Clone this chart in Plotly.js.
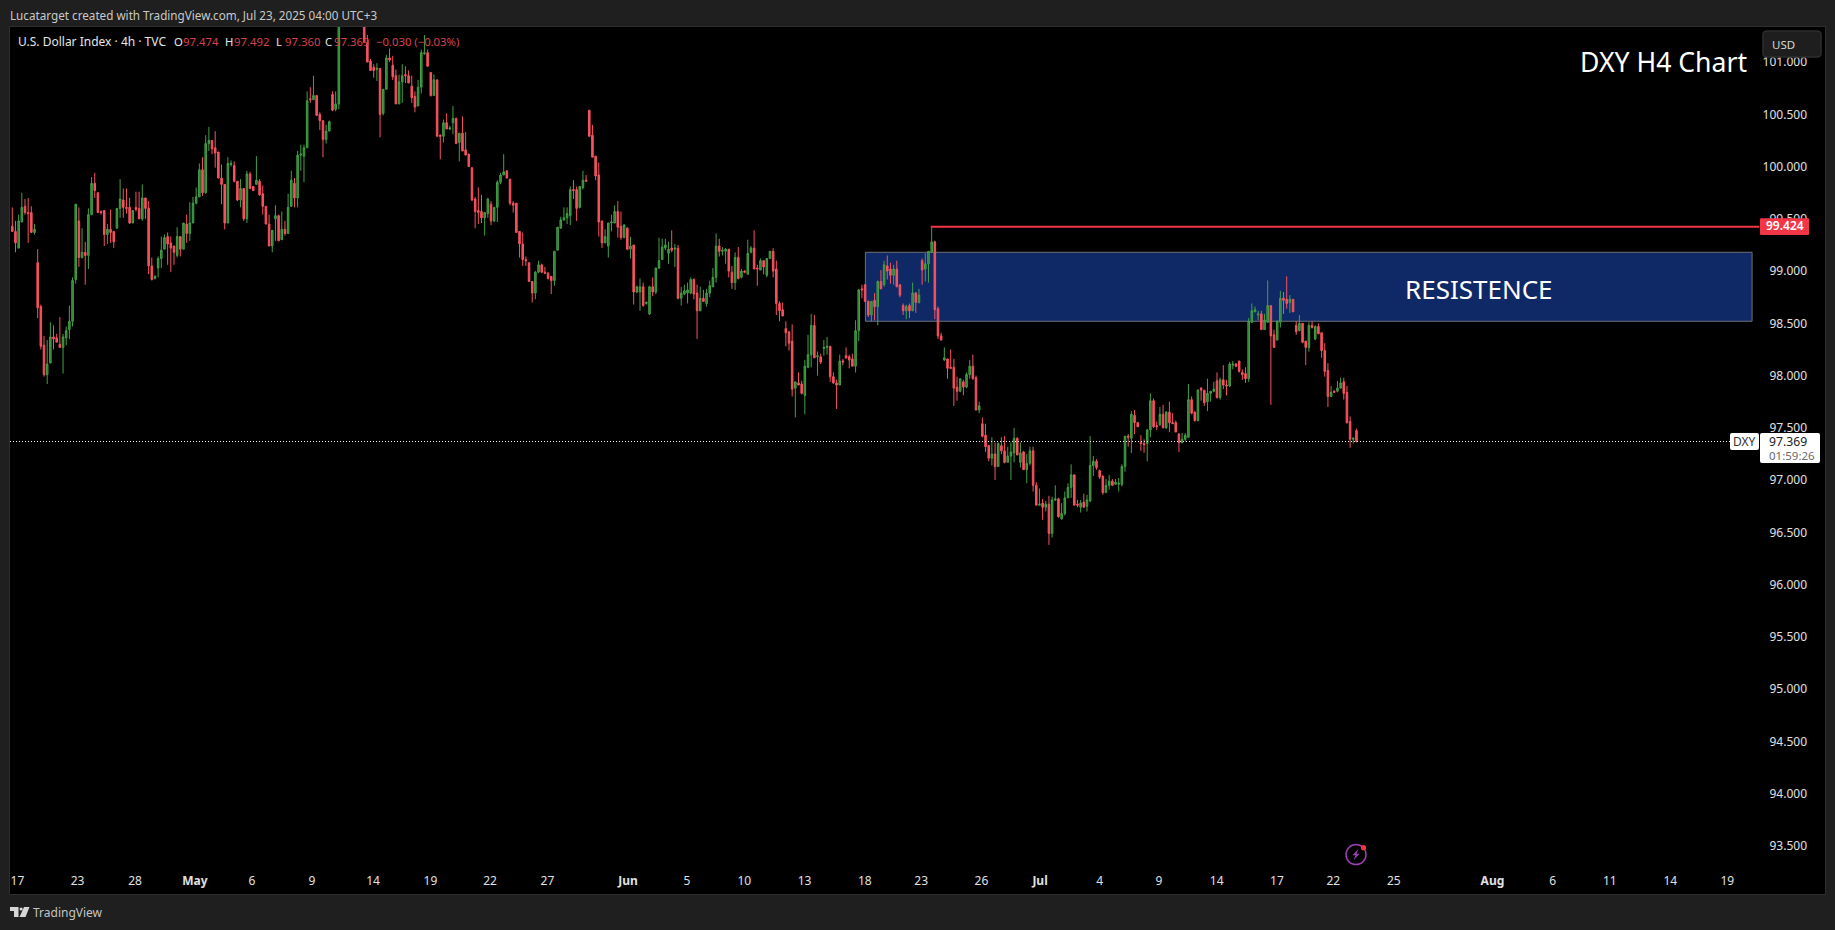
<!DOCTYPE html>
<html>
<head>
<meta charset="utf-8">
<script src="https://cdn.plot.ly/plotly-3.0.1.min.js"></script>
<style>html,body{margin:0;padding:0;background:#1f1f1f;overflow:hidden}#chart{width:1835px;height:930px}</style>
</head>
<body>
<div id="chart"></div>
<script>
const open = [
99.43,99.38,99.22,99.47,99.62,99.56,99.56,99.37,99.08,98.66,
98.29,98.01,98.12,98.37,98.36,98.30,98.27,98.36,98.44,98.52,
98.92,99.48,99.13,99.18,99.15,99.54,99.84,99.75,99.57,99.58,
99.35,99.40,99.38,99.41,99.60,99.68,99.61,99.61,99.46,99.61,
99.60,99.50,99.70,99.60,99.05,98.93,99.03,99.12,99.21,99.33,
99.27,99.24,99.15,99.33,99.21,99.45,99.36,99.46,99.65,99.71,
99.97,99.75,100.22,100.25,100.18,100.14,99.89,99.83,99.46,100.02,
100.01,99.86,99.68,99.79,99.50,99.93,99.81,99.83,99.86,99.74,
99.62,99.45,99.24,99.50,99.53,99.30,99.40,99.36,99.62,99.84,
99.70,100.11,100.10,100.18,100.65,100.64,100.68,100.50,100.44,100.26,
100.34,100.69,100.55,100.60,
101.45,101.60,101.55,101.70,101.80,101.70,101.60,
101.40,101.18,101.01,100.95,100.93,100.94,100.51,100.74,101.04,100.97,
100.87,100.60,100.81,100.88,100.87,100.77,100.67,100.58,100.76,101.08,
101.09,100.90,100.68,100.83,100.30,100.29,100.42,100.36,100.42,100.46,
100.23,100.32,100.16,100.12,99.99,99.69,99.58,99.57,99.51,99.55,
99.64,99.48,99.61,99.85,99.92,99.96,99.88,99.65,99.65,99.38,
99.26,99.11,99.08,98.90,98.79,98.99,99.06,98.99,98.98,98.95,
98.91,99.20,99.41,99.49,99.51,99.53,99.78,99.78,99.61,99.80,
99.87,100.54,100.30,100.10,99.92,99.48,99.27,99.24,99.46,99.46,
99.57,99.43,99.32,99.41,99.21,99.25,98.80,98.80,98.85,98.69,
98.59,98.85,98.80,99.03,
99.11,99.22,99.17,99.22,99.21,99.22,98.74,98.78,98.79,98.79,
98.92,98.79,98.62,98.74,98.69,98.79,98.85,98.94,99.24,99.19,
99.19,99.21,98.99,98.89,99.13,98.94,99.00,98.97,99.18,99.22,
99.03,99.01,99.10,98.96,99.12,99.19,99.02,98.69,98.63,98.45,
98.42,98.33,97.88,97.93,97.92,97.81,98.08,98.20,98.48,98.18,
98.18,98.26,98.27,98.28,97.99,97.93,97.91,98.14,98.19,98.18,
98.16,98.09,98.43,98.83,98.87,98.71,98.58,98.72,98.66,98.90,
98.87,99.05,99.02,98.96,99.02,98.87,98.67,98.62,98.67,98.62,
98.79,98.70,99.10,99.02,99.07,99.18,99.28,98.64,98.38,98.15,
98.16,98.08,98.08,97.89,97.85,97.94,97.89,98.01,98.09,97.98,
97.67,97.54,97.43,97.33,
97.21,97.25,97.13,97.33,97.28,97.17,97.23,97.26,97.40,97.17,
97.27,97.10,97.16,97.28,96.95,96.76,96.78,96.74,96.77,96.49,
96.81,96.82,96.63,96.68,96.83,96.93,97.05,96.77,96.74,96.79,
96.75,96.80,97.14,97.18,97.09,97.04,96.88,96.95,96.99,96.96,
96.96,96.96,97.13,97.42,97.40,97.62,97.55,97.36,97.35,97.35,
97.48,97.76,97.52,97.53,97.63,97.50,97.65,97.55,97.55,97.44,
97.36,97.39,97.41,97.77,97.65,97.57,97.88,97.86,97.75,97.83,
97.85,97.95,97.79,97.96,97.91,97.90,98.10,98.11,98.14,98.03,
98.02,97.97,98.51,98.61,98.58,98.59,98.44,98.51,98.67,98.39,
98.34,98.51,98.74,98.73,98.70,98.73,98.48,98.43,98.50,98.33,
98.27,98.48,98.35,98.47,98.41,98.24,98.05,97.80,97.85,97.85,
97.88,97.94,97.84,97.56,97.39,97.474];
const high = [
99.61,99.48,99.54,99.75,99.69,99.70,99.62,99.45,99.21,98.68,
98.38,98.34,98.51,98.48,98.40,98.56,98.40,98.47,98.67,98.94,
99.64,99.61,99.41,99.28,99.60,99.90,99.94,99.75,99.58,99.58,
99.45,99.59,99.38,99.60,99.88,99.79,99.79,99.70,99.58,99.76,
99.76,99.83,99.70,99.67,99.13,98.96,99.14,99.33,99.35,99.37,
99.33,99.24,99.42,99.33,99.46,99.54,99.66,99.71,99.80,100.03,
100.09,100.30,100.38,100.25,100.34,100.14,100.02,99.83,100.09,100.06,
100.05,99.86,99.88,99.79,99.96,99.95,99.81,100.10,99.88,99.82,
99.62,99.54,99.39,99.63,99.54,99.57,99.48,99.74,99.96,99.89,
100.15,100.21,100.21,100.72,100.76,100.87,100.68,100.52,100.44,100.40,
100.44,100.72,100.72,101.60,
101.70,101.70,101.80,101.90,101.90,101.80,101.70,
101.50,101.26,101.03,100.98,100.99,100.94,100.74,101.07,101.13,101.06,
100.93,100.88,100.98,100.96,100.92,100.87,100.72,100.83,101.12,101.26,
101.12,100.90,100.88,100.83,100.31,100.45,100.51,100.39,100.58,100.47,
100.32,100.48,100.33,100.12,99.99,99.71,99.80,99.73,99.56,99.70,
99.67,99.61,99.87,99.94,100.12,99.96,99.88,99.67,99.65,99.38,
99.37,99.14,99.08,98.90,99.00,99.10,99.07,99.04,98.99,98.95,
99.19,99.42,99.52,99.61,99.61,99.81,99.87,99.81,99.81,99.96,
99.92,100.54,100.40,100.10,100.04,99.48,99.40,99.46,99.54,99.63,
99.67,99.57,99.45,99.42,99.33,99.25,98.86,98.93,98.89,98.71,
98.86,98.94,99.03,99.32,
99.31,99.31,99.28,99.39,99.26,99.25,98.85,98.87,98.89,98.94,
98.93,98.87,98.85,98.82,98.83,98.91,99.03,99.36,99.31,99.23,
99.22,99.21,99.05,99.18,99.23,99.02,99.01,99.30,99.24,99.39,
99.06,99.12,99.10,99.12,99.19,99.22,99.10,98.71,98.70,98.52,
98.42,98.49,97.94,98.03,97.95,98.15,98.39,98.59,98.58,98.23,
98.21,98.34,98.37,98.28,98.03,97.96,98.20,98.16,98.27,98.20,
98.21,98.53,98.83,98.87,98.87,98.72,98.71,98.79,98.91,99.01,
99.10,99.15,99.08,99.06,99.10,98.87,98.69,98.68,98.69,98.89,
98.80,98.83,99.12,99.17,99.19,99.42,99.29,98.66,98.41,98.27,
98.16,98.25,98.16,97.99,97.97,97.96,98.03,98.15,98.20,98.00,
97.75,97.60,97.54,97.33,
97.41,97.36,97.36,97.41,97.42,97.32,97.36,97.50,97.41,97.36,
97.28,97.25,97.32,97.32,96.98,96.92,96.82,96.80,96.85,96.84,
96.95,96.83,96.78,96.89,96.97,97.15,97.05,96.81,96.81,96.87,
96.86,97.42,97.23,97.20,97.10,97.04,97.01,97.05,97.01,97.01,
97.02,97.15,97.42,97.44,97.66,97.67,97.55,97.43,97.39,97.49,
97.83,97.78,97.56,97.70,97.72,97.66,97.75,97.64,97.57,97.45,
97.45,97.45,97.92,97.80,97.66,97.87,97.89,97.86,97.97,97.85,
97.94,98.03,97.98,98.10,97.96,98.13,98.14,98.12,98.14,98.06,
98.08,98.55,98.69,98.66,98.62,98.62,98.59,98.91,98.67,98.44,
98.53,98.81,98.80,98.95,98.77,98.73,98.52,98.58,98.50,98.33,
98.51,98.52,98.48,98.50,98.41,98.31,98.12,97.90,97.86,97.95,
97.98,97.98,97.90,97.61,97.41,97.492];
const low = [
99.38,99.18,99.22,99.47,99.54,99.27,99.37,99.35,98.55,98.25,
97.99,97.92,98.12,98.25,98.32,98.27,98.02,98.29,98.35,98.47,
98.88,99.04,99.12,98.87,99.02,99.54,99.70,99.56,99.54,99.24,
99.26,99.27,99.22,99.41,99.51,99.51,99.55,99.45,99.46,99.57,
99.50,99.48,99.50,98.97,98.91,98.92,98.94,99.03,99.21,99.06,
98.99,99.06,99.13,99.14,99.21,99.27,99.29,99.46,99.64,99.71,
99.72,99.74,100.15,100.12,99.99,99.89,99.64,99.40,99.46,100.00,
99.85,99.67,99.61,99.48,99.46,99.79,99.77,99.83,99.72,99.54,
99.45,99.24,99.18,99.29,99.29,99.30,99.34,99.36,99.62,99.61,
99.61,99.96,99.85,100.18,100.61,100.64,100.49,100.35,100.09,100.22,
100.34,100.53,100.53,100.55,
101.40,101.50,101.50,101.65,101.65,101.55,101.40,
101.19,101.00,100.92,100.85,100.82,100.28,100.49,100.74,101.00,100.83,
100.60,100.60,100.61,100.80,100.80,100.61,100.52,100.58,100.70,101.07,
100.96,100.67,100.68,100.29,100.07,100.23,100.36,100.35,100.31,100.22,
100.05,100.15,100.11,100.00,99.67,99.41,99.45,99.46,99.34,99.51,
99.44,99.47,99.47,99.83,99.92,99.89,99.63,99.56,99.37,99.13,
99.05,99.05,98.90,98.70,98.73,98.98,98.98,98.97,98.92,98.78,
98.86,99.20,99.41,99.48,99.45,99.44,99.69,99.48,99.60,99.78,
99.86,100.29,100.09,99.87,99.33,99.22,99.27,99.13,99.38,99.46,
99.32,99.30,99.32,99.20,99.12,98.68,98.79,98.62,98.66,98.68,
98.58,98.76,98.78,99.02,
99.11,99.20,99.07,99.18,99.04,98.73,98.67,98.77,98.69,98.78,
98.73,98.35,98.62,98.71,98.66,98.75,98.85,98.89,99.14,99.15,
99.07,98.94,98.83,98.82,98.92,98.93,98.98,98.97,99.17,99.02,
98.86,99.01,98.97,98.94,99.12,98.94,98.58,98.52,98.57,98.28,
98.24,97.80,97.60,97.91,97.82,97.63,98.07,98.08,98.17,98.00,
98.11,98.19,98.20,97.94,97.92,97.68,97.91,98.10,98.16,98.07,
98.09,98.03,98.33,98.74,98.71,98.56,98.52,98.53,98.48,98.83,
98.85,98.92,98.88,98.87,98.85,98.75,98.58,98.54,98.55,98.62,
98.60,98.69,98.87,98.90,98.89,99.18,98.54,98.35,98.34,98.14,
97.97,98.07,97.71,97.76,97.84,97.81,97.88,97.97,97.96,97.67,
97.64,97.41,97.27,97.18,
97.14,97.00,97.13,97.25,97.16,97.17,97.00,97.17,97.24,97.12,
97.10,96.97,97.14,96.89,96.76,96.76,96.62,96.70,96.38,96.45,
96.80,96.64,96.62,96.66,96.83,96.83,96.76,96.74,96.69,96.74,
96.70,96.79,97.04,97.10,97.01,96.86,96.88,96.91,96.95,96.96,
96.89,96.94,97.08,97.32,97.26,97.44,97.51,97.28,97.26,97.18,
97.41,97.50,97.48,97.52,97.50,97.49,97.46,97.54,97.46,97.27,
97.35,97.37,97.41,97.63,97.56,97.56,97.76,97.71,97.66,97.75,
97.84,97.78,97.77,97.87,97.81,97.89,98.06,98.08,98.03,97.96,
97.93,97.94,98.51,98.61,98.53,98.44,98.44,98.51,97.72,98.27,
98.34,98.46,98.59,98.64,98.60,98.61,98.39,98.43,98.31,98.10,
98.23,98.45,98.34,98.40,98.17,97.99,97.70,97.80,97.84,97.84,
97.88,97.77,97.54,97.31,97.35,97.360];
const close = [
99.38,99.27,99.48,99.61,99.56,99.55,99.37,99.40,98.65,98.28,
98.01,98.11,98.37,98.35,98.32,98.27,98.37,98.43,98.52,98.91,
99.64,99.13,99.18,99.15,99.54,99.84,99.77,99.56,99.56,99.35,
99.40,99.37,99.28,99.60,99.69,99.61,99.60,99.46,99.58,99.59,
99.50,99.70,99.60,99.05,98.92,98.95,99.12,99.20,99.32,99.26,
99.22,99.18,99.33,99.21,99.46,99.36,99.46,99.65,99.71,99.97,
99.75,100.22,100.25,100.17,100.13,99.89,99.83,99.46,100.03,100.03,
99.86,99.68,99.79,99.50,99.93,99.79,99.77,99.87,99.73,99.62,
99.45,99.24,99.39,99.53,99.29,99.40,99.36,99.61,99.87,99.70,
100.11,100.12,100.18,100.63,100.64,100.68,100.49,100.44,100.26,100.34,
100.43,100.54,100.60,101.45,
101.60,101.55,101.70,101.80,101.70,101.60,101.45,
101.19,101.00,100.92,100.92,100.94,100.50,100.74,101.04,101.02,100.86,
100.60,100.81,100.87,100.87,100.80,100.66,100.57,100.76,101.09,101.09,
100.96,100.68,100.83,100.29,100.29,100.42,100.36,100.37,100.46,100.22,
100.32,100.15,100.11,100.00,99.68,99.57,99.56,99.51,99.56,99.69,
99.48,99.61,99.85,99.92,99.95,99.89,99.65,99.63,99.37,99.26,
99.11,99.10,98.90,98.79,98.99,99.06,98.99,98.98,98.93,98.91,
99.19,99.42,99.49,99.51,99.55,99.78,99.77,99.60,99.81,99.87,
99.86,100.29,100.09,99.91,99.47,99.27,99.33,99.46,99.47,99.57,
99.42,99.32,99.44,99.21,99.24,98.80,98.85,98.85,98.67,98.70,
98.85,98.80,99.03,99.10,
99.23,99.25,99.21,99.20,99.22,98.74,98.79,98.81,98.82,98.92,
98.78,98.62,98.74,98.71,98.79,98.86,98.94,99.24,99.19,99.20,
99.21,99.00,98.89,99.13,98.93,99.00,98.99,99.17,99.22,99.02,
99.02,99.10,99.04,99.12,99.19,99.00,98.69,98.62,98.57,98.41,
98.31,97.87,97.94,97.91,97.83,98.09,98.20,98.48,98.17,98.19,
98.13,98.27,98.28,97.99,97.93,97.91,98.14,98.13,98.17,98.15,
98.09,98.43,98.82,98.82,98.71,98.58,98.71,98.66,98.90,98.83,
99.06,99.00,98.96,99.02,98.85,98.77,98.62,98.66,98.62,98.79,
98.70,98.77,99.01,99.07,99.19,99.28,98.63,98.38,98.34,98.17,
98.07,98.07,97.88,97.85,97.97,97.89,98.01,98.09,97.97,97.67,
97.71,97.42,97.32,97.21,
97.25,97.13,97.35,97.28,97.17,97.23,97.27,97.40,97.24,97.26,
97.10,97.16,97.28,96.95,96.76,96.77,96.74,96.77,96.49,96.81,
96.82,96.65,96.68,96.83,96.93,97.05,96.76,96.76,96.78,96.74,
96.81,97.14,97.18,97.12,97.03,96.88,96.95,96.99,96.95,96.98,
96.97,97.13,97.42,97.41,97.63,97.55,97.51,97.35,97.34,97.48,
97.76,97.51,97.51,97.63,97.50,97.65,97.55,97.54,97.46,97.36,
97.39,97.43,97.77,97.64,97.57,97.86,97.86,97.74,97.83,97.85,
97.87,97.79,97.96,97.91,97.90,98.11,98.11,98.09,98.04,98.01,
97.97,98.52,98.62,98.63,98.59,98.44,98.53,98.67,98.38,98.27,
98.52,98.74,98.72,98.69,98.73,98.61,98.42,98.50,98.32,98.27,
98.48,98.46,98.47,98.40,98.24,98.04,97.80,97.84,97.84,97.88,
97.93,97.83,97.55,97.39,97.40,97.369];

const tickBars = [1.6,20.6,38.7,57.6,75.6,94.5,113.8,131.9,150.7,168.8,194.2,212.8,230.9,249.9,268.9,286.7,305.7,324.2,343,361.7,379.9,398.9,416.7,435.8,466.9,485.9,503.9,523,541];
const tickLabels = ['17','23','28','<b>May</b>','6','9','14','19','22','27','<b>Jun</b>','5','10','13','18','23','26','<b>Jul</b>','4','9','14','17','22','25','<b>Aug</b>','6','11','14','19'];
const priceTicks = [93.5,94,94.5,95,95.5,96,96.5,97,97.5,98,98.5,99,99.5,100,100.5,101];
const lastPrice = 97.369, swingHigh = 99.424;
const zoneTop = 99.18, zoneBottom = 98.52;
const headerText = 'Lucatarget created with TradingView.com, Jul 23, 2025 04:00 UTC+3';
const symbolText = 'U.S. Dollar Index · 4h · TVC';
const ohlcLabels = ['O','H','L','C'];
const ohlcValues = ['97.474','97.492','97.360','97.369'];
const changeText = '−0.030 (−0.03%)';

const bars = open.map((_, i) => i);
const PANE = {l: 10, r: 1825, t: 27, b: 894};
const X = px => (px - PANE.l) / (PANE.r - PANE.l);
const Y = py => 1 - (py - PANE.t) / (PANE.b - PANE.t);
const FONT = '"Noto Sans", "Open Sans", sans-serif';
const RED = '#f7525f';

function note(text, px, py, size, color, anchor, extra) {
  return Object.assign({text, x: X(px), y: Y(py), xref: 'paper', yref: 'paper', showarrow: false,
    xanchor: anchor || 'left', yanchor: 'middle', font: {family: FONT, size, color}}, extra || {});
}
function pathPx(d) {
  return d.replace(/([\d.]+),([\d.]+)/g, (m, a, b) => X(+a) + ',' + Y(+b));
}
function rrect(x0, y0, x1, y1, r) {
  return pathPx(`M${x0+r},${y0} L${x1-r},${y0} Q${x1},${y0} ${x1},${y0+r} L${x1},${y1-r} Q${x1},${y1} ${x1-r},${y1} L${x0+r},${y1} Q${x0},${y1} ${x0},${y1-r} L${x0},${y0+r} Q${x0},${y0} ${x0+r},${y0} Z`);
}
function pshape(d, fill, lineColor, w, layer) {
  return {type: 'path', xref: 'paper', yref: 'paper', path: d, fillcolor: fill,
    line: {color: lineColor || 'rgba(0,0,0,0)', width: w || 0}, layer: layer || 'above'};
}

const shapes = [
  {type: 'rect', xref: 'x', yref: 'y', x0: 269.1, x1: 548.8, y0: zoneBottom, y1: zoneTop,
   fillcolor: '#0f2966', line: {color: '#6f7178', width: 1}, layer: 'below'},
  {type: 'line', xref: 'x', yref: 'y', x0: 289.7, x1: 551, y0: swingHigh, y1: swingHigh,
   line: {color: '#f23645', width: 2}, layer: 'above'},
  {type: 'line', xref: 'x', yref: 'y', x0: -0.73, x1: 541.9, y0: lastPrice, y1: lastPrice,
   line: {color: '#ffffff', width: 1, dash: '1px,2px'}, layer: 'above'},
  pshape(rrect(1763, 31, 1821, 57, 4), '#1e1e1e', '#2e2e2e', 1.5),
  pshape(rrect(1760, 218.3, 1809, 235, 1), '#f23645'),
  pshape(rrect(1730, 433, 1759, 450, 2), '#ffffff'),
  pshape(rrect(1760, 433, 1820, 463, 2), '#ffffff'),
  // TradingView mark
  pshape(pathPx('M10,907 L18.5,907 L18.5,917 L14,917 L14,911 L10,911 Z'), '#d6d6d6'),
  pshape(pathPx('M24,907 L29.5,907 L25.5,917 L19.5,917 Z'), '#d6d6d6'),
  {type: 'circle', xref: 'paper', yref: 'paper', x0: X(19.5), x1: X(22.7), y0: Y(910.6), y1: Y(907.4), fillcolor: '#d6d6d6', line: {width: 0}, layer: 'above'},
  // alert icon
  {type: 'circle', xref: 'paper', yref: 'paper', x0: X(1346), x1: X(1366), y0: Y(864.6), y1: Y(844.6), fillcolor: 'rgba(0,0,0,0)', line: {color: '#9c3fb3', width: 1.5}, layer: 'above'},
  pshape(pathPx('M1358.5,848.8 L1352.5,855.3 L1355.5,855.3 L1353.5,860.3 L1359.5,853.8 L1356.5,853.8 Z'), '#9c3fb3'),
  {type: 'circle', xref: 'paper', yref: 'paper', x0: X(1360.9), x1: X(1366.1), y0: Y(850.3), y1: Y(845.1), fillcolor: '#f23645', line: {width: 0}, layer: 'above'},
  // pane border
  {type: 'rect', xref: 'paper', yref: 'paper', x0: X(9.5), x1: X(1825.5), y0: Y(894.5), y1: Y(26.5), fillcolor: 'rgba(0,0,0,0)', line: {color: '#2e2e2e', width: 1}, layer: 'above'}
];

const valueX = [180.5, 231.5, 282.5, 331.5], labelX = [171.5, 222.5, 273.5, 322.5];
const annotations = [
  note(headerText, 8, 15, 11.7, '#c9c9c9'),
  note(symbolText, 16, 41.5, 12, '#e6e6e6'),
  note(changeText, 373.5, 41.5, 11.3, '#d9404e'),
  note('DXY H4 Chart', 1749, 62, 26.6, '#ffffff', 'right'),
  note('RESISTENCE', 1478.7, 289, 26, '#ffffff', 'center'),
  note('USD', 1770, 44, 11.5, '#d6d6d6'),
  note(String(swingHigh), 1784.5, 225.5, 12, '#ffffff', 'center', {font: {family: FONT, size: 12, color: '#ffffff', weight: 600}}),
  note('DXY', 1744.5, 441.5, 12, '#333333', 'center'),
  note(String(lastPrice), 1767, 441.5, 12.2, '#222222'),
  note('01:59:26', 1767, 455.5, 11.5, '#6a6a6a'),
  note('TradingView', 31, 912, 12, '#c4c4c4')
];
ohlcLabels.forEach((l, i) => {
  annotations.push(note(l, labelX[i], 41.5, 11.3, '#e6e6e6'));
  annotations.push(note(ohlcValues[i], valueX[i], 41.5, 11.3, '#d9404e'));
});

const trace = {
  type: 'candlestick', x: bars, open, high, low, close,
  increasing: {line: {color: '#43a047', width: 1}, fillcolor: '#2e7d32'},
  decreasing: {line: {color: RED, width: 1}, fillcolor: RED},
  whiskerwidth: 0, hoverinfo: 'skip', showlegend: false
};

const layout = {
  width: 1835, height: 930,
  margin: {l: PANE.l, r: 1835 - PANE.r, t: PANE.t, b: 930 - PANE.b, pad: 0},
  paper_bgcolor: '#1f1f1f', plot_bgcolor: '#000000',
  font: {family: FONT, size: 12, color: '#e0e0e0'},
  xaxis: {type: 'linear', range: [-0.73, 571.8], rangeslider: {visible: false}, showgrid: false, zeroline: false,
    showline: false, tickmode: 'array', tickvals: tickBars, ticktext: tickLabels, ticks: '',
    ticklabelposition: 'inside', ticklabelstandoff: 4, tickangle: 0, tickfont: {family: FONT, size: 12, color: '#e0e0e0'}},
  yaxis: {type: 'linear', side: 'right', range: [93.039, 101.336], showgrid: false, zeroline: false, showline: false,
    tickmode: 'array', tickvals: priceTicks, ticktext: priceTicks.map(v => v.toFixed(3)), ticks: '',
    ticklabelposition: 'inside', ticklabelstandoff: 15, tickfont: {family: FONT, size: 12, color: '#e0e0e0'}},
  shapes, annotations, showlegend: false, dragmode: false
};

Plotly.newPlot('chart', [trace], layout, {displayModeBar: false, staticPlot: true});
</script>
</body>
</html>
